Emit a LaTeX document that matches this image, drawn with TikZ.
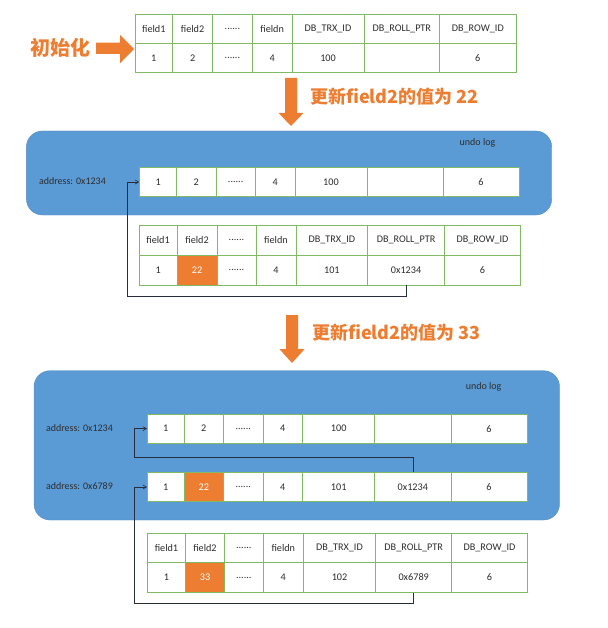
\documentclass[tikz,border=0pt]{standalone}
\usepackage{fontspec}
\setmainfont{Carlito}
\newfontfamily\cjk{Noto Sans CJK SC}
\usetikzlibrary{arrows.meta}
\definecolor{cellgreen}{RGB}{130,185,100}
\definecolor{orng}{RGB}{237,125,49}
\definecolor{blu}{RGB}{91,155,213}
\definecolor{txt}{RGB}{45,45,45}
\definecolor{lnk}{RGB}{40,45,60}
\newcommand\sixdots{......}
\tikzset{
  cell/.style={draw=cellgreen, line width=0.8pt, fill=white, inner sep=0pt,
    font=\fontsize{10.2}{12}\selectfont, text=txt},
  plain/.style={},
  hot/.style={fill=orng, text=white},
  conn/.style={draw=lnk, line width=0.6pt},
  tipend/.style={-{Straight Barb[length=3.5pt,width=4pt]}},
  undobox/.style={fill=blu, draw=blu!90!black, line width=0.4pt, rounded corners=16pt},
  fat/.style={fill=orng, draw=none},
  caption/.style={font=\cjk\bfseries\fontsize{18}{20}\selectfont, text=orng, inner sep=0pt},
  lbl/.style={font=\fontsize{10}{12}\selectfont, text=txt, inner sep=0pt}
}
\newcommand\mkrow[4]{%
  \foreach \xl/\xr/\t/\s [count=\i] in {#4}{%
    \node[cell,\s,minimum width={(\xr-\xl)*1pt},minimum height={(#3-#2)*1pt}]
      (#1\i) at ({(\xl+\xr)/2},{(#2+#3)/2}) {\t};
  }%
}
\begin{document}
\begin{tikzpicture}[x=1pt,y=-1pt]
\useasboundingbox[fill=white] (0,0) rectangle (607,628);

% ---------- initial row ----------
\node[caption, font=\cjk\bfseries\fontsize{20}{22}\selectfont, anchor=west] (init) at (30,48) {初始化};
\fill[fat] (96,42.7) -- (120,42.7) -- (120,35) -- (134,49) -- (120,63.3) -- (120,54) -- (96,54) -- cycle;

\mkrow{ha}{14}{43.3}{135/172.6/field1/plain,172.6/212.6/field2/plain,212.6/252.2/\sixdots/plain,252.2/292.1/fieldn/plain,292.1/363.9/DB\_TRX\_ID/plain,363.9/439.6/DB\_ROLL\_PTR/plain,439.6/516/DB\_ROW\_ID/plain}
\mkrow{hb}{43.3}{72.3}{135/172.6/1/plain,172.6/212.6/2/plain,212.6/252.2/\sixdots/plain,252.2/292.1/4/plain,292.1/363.9/100/plain,363.9/439.6//plain,439.6/516/6/plain}

% ---------- arrow 1 ----------
\fill[fat] (285,78) -- (297,78) -- (297,113) -- (303.4,113) -- (291,126) -- (278.6,113) -- (285,113) -- cycle;
\node[caption, anchor=west] (cap1) at (310,97) {更新field2的值为 22};

% ---------- first undo log ----------
\draw[undobox] (26.4,131) rectangle (551.7,215);
\node[lbl] (undo1) at (477.5,143.3) {undo log};
\node[lbl, anchor=west] (addr1) at (38.8,181) {address: 0x1234};
\mkrow{ua}{167.3}{196.7}{139.7/176.5/1/plain,176.5/216/2/plain,216/255.3/\sixdots/plain,255.3/294.9/4/plain,294.9/367/100/plain,367/443//plain,443/519/6/plain}

\mkrow{ta}{225.7}{255}{138.9/177.3/field1/plain,177.3/216.9/field2/plain,216.9/256/\sixdots/plain,256/296/fieldn/plain,296/367.8/DB\_TRX\_ID/plain,367.8/444.3/DB\_ROLL\_PTR/plain,444.3/520.7/DB\_ROW\_ID/plain}
\mkrow{tb}{255}{285}{138.9/177.3/1/plain,177.3/216.9/22/hot,216.9/256/\sixdots/plain,256/296/4/plain,296/367.8/101/plain,367.8/444.3/0x1234/plain,444.3/520.7/6/plain}

\draw[conn, tipend] (tb6.south) -- (tb6.south |- 0,296.7) -| ([xshift=-11.7pt]ua1.west) -- (ua1.west);

% ---------- arrow 2 ----------
\fill[fat] (286,315) -- (298,315) -- (298,349) -- (304.6,349) -- (292,363) -- (279.4,349) -- (286,349) -- cycle;
\node[caption, anchor=west] (cap2) at (312,333) {更新field2的值为 33};

% ---------- second undo log ----------
\draw[undobox] (34,370.7) rectangle (559.5,520);
\node[lbl] (undo2) at (483.6,387) {undo log};
\node[lbl, anchor=west] (addr2) at (45.8,427.7) {address: 0x1234};
\node[lbl, anchor=west] (addr3) at (45.8,485.7) {address: 0x6789};
\mkrow{ra}{414}{443.3}{147.4/184/1/plain,184/223.5/2/plain,223.5/263/\sixdots/plain,263/302.6/4/plain,302.6/374.8/100/plain,374.8/450.9//plain,450.9/527/6/plain}
\mkrow{rb}{472.3}{501.7}{147.4/184/1/plain,184/223.5/22/hot,223.5/263/\sixdots/plain,263/302.6/4/plain,302.6/374.8/101/plain,374.8/450.9/0x1234/plain,450.9/527/6/plain}

\draw[conn, tipend] (rb6.north) -- (rb6.north |- 0,457.3) -| ([xshift=-12.4pt]ra1.west) -- (ra1.west);

\mkrow{sa}{533.3}{562.7}{147.3/185.7/field1/plain,185.7/224.3/field2/plain,224.3/263.3/\sixdots/plain,263.3/303.3/fieldn/plain,303.3/375.7/DB\_TRX\_ID/plain,375.7/451.7/DB\_ROLL\_PTR/plain,451.7/527.3/DB\_ROW\_ID/plain}
\mkrow{sb}{562.7}{592.3}{147.3/185.7/1/plain,185.7/224.3/33/hot,224.3/263.3/\sixdots/plain,263.3/303.3/4/plain,303.3/375.7/102/plain,375.7/451.7/0x6789/plain,451.7/527.3/6/plain}

\draw[conn, tipend] (sb6.south) -- (sb6.south |- 0,603.3) -| ([xshift=-12.4pt]rb1.west) -- (rb1.west);
\end{tikzpicture}
\end{document}
